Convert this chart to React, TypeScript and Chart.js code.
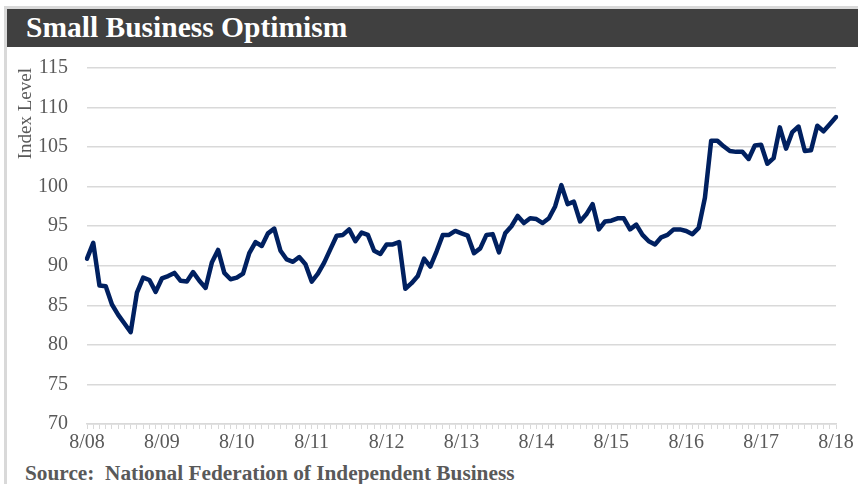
import React, { useEffect, useRef } from 'react';
import { Chart, registerables } from 'chart.js';

Chart.register(...registerables);

const tickLabels = ['8/08', '8/09', '8/10', '8/11', '8/12', '8/13', '8/14', '8/15', '8/16', '8/17', '8/18'];

// Monthly index values, Aug 2008 .. Aug 2018
const v2008 = [90.9, 92.9, 87.5, 87.4, 85.1];
const v2009 = [83.8, 82.7, 81.6, 86.6, 88.5, 88.2, 86.7, 88.4, 88.7, 89.1, 88.1, 88.0];
const v2010 = [89.2, 88.1, 87.2, 90.4, 92.0, 89.1, 88.3, 88.5, 89.0, 91.6, 93.0, 92.5];
const v2011 = [94.1, 94.7, 91.9, 90.8, 90.5, 91.1, 90.2, 88.0, 89.0, 90.4, 92.1, 93.8];
const v2012 = [93.9, 94.6, 93.1, 94.2, 93.9, 91.9, 91.5, 92.7, 92.7, 93.0, 87.1, 87.8];
const v2013 = [88.7, 90.9, 89.9, 91.8, 93.9, 93.9, 94.4, 94.1, 93.8, 91.6, 92.2, 93.9];
const v2014 = [94.0, 91.7, 94.1, 95.0, 96.3, 95.4, 96.0, 95.9, 95.4, 96.0, 97.5, 100.2];
const v2015 = [97.8, 98.1, 95.6, 96.5, 97.8, 94.6, 95.6, 95.7, 96.0, 96.0, 94.6, 95.2];
const v2016 = [93.9, 93.1, 92.7, 93.6, 93.9, 94.6, 94.6, 94.4, 94.0, 94.8, 98.6, 105.8];
const v2017 = [105.8, 105.1, 104.5, 104.4, 104.4, 103.5, 105.2, 105.3, 102.9, 103.6, 107.5, 104.8];
const v2018 = [106.9, 107.6, 104.5, 104.6, 107.7, 107.0, 107.9, 108.8];

const values = [...v2008, ...v2009, ...v2010, ...v2011, ...v2012, ...v2013, ...v2014, ...v2015, ...v2016, ...v2017, ...v2018];
const categories = values.map((_, i) => String(i));

const FONT = "'Liberation Serif', 'Times New Roman', serif";
const GRAY_TEXT = '#595959';
const GRID = '#d9d9d9';

export default function App() {
  const canvasRef = useRef<HTMLCanvasElement | null>(null);

  useEffect(() => {
    if (!canvasRef.current) return;
    const chart = new Chart(canvasRef.current, {
      type: 'line',
      data: {
        labels: categories,
        datasets: [
          {
            data: values,
            borderColor: '#002060',
            borderWidth: 4.5,
            pointRadius: 0,
            tension: 0,
            borderJoinStyle: 'round',
            borderCapStyle: 'round',
            fill: false,
          },
        ],
      },
      options: {
        animation: false,
        responsive: false,
        maintainAspectRatio: false,
        layout: { padding: { left: 0, right: 22, top: 21, bottom: 0 } },
        plugins: { legend: { display: false }, tooltip: { enabled: false }, title: { display: false } },
        scales: {
          x: {
            type: 'category',
            offset: false,
            grid: {
              display: true,
              drawOnChartArea: false,
              drawTicks: true,
              tickLength: 5,
              color: GRID,
              lineWidth: 1,
            },
            border: { display: true, color: GRID, width: 1.5 },
            ticks: {
              autoSkip: false,
              maxRotation: 0,
              minRotation: 0,
              padding: 2,
              color: GRAY_TEXT,
              font: { family: FONT, size: 20 },
              callback: (_v: any, idx: number) => (idx % 12 === 0 ? tickLabels[idx / 12] : ''),
            },
          },
          y: {
            min: 70,
            max: 115,
            afterFit: (scale: any) => {
              scale.width = 87;
              scale.paddingTop = 0;
              scale.paddingBottom = 0;
            },
            grid: { color: GRID, lineWidth: 1.5, drawTicks: false },
            border: { display: false },
            ticks: {
              stepSize: 5,
              padding: 19,
              color: GRAY_TEXT,
              font: { family: FONT, size: 20 },
            },
            title: {
              display: true,
              text: 'Index Level',
              align: 'end',
              color: GRAY_TEXT,
              font: { family: FONT, size: 19 },
              padding: { top: 15, bottom: 0 },
            },
          },
        },
      },
    } as any);
    return () => chart.destroy();
  }, []);

  return (
    <div
      style={{
        position: 'fixed',
        left: 0,
        top: 0,
        width: 858,
        height: 484,
        background: '#ffffff',
        overflow: 'hidden',
      }}
    >
      <div style={{ position: 'absolute', left: 4, top: 6, width: 3, height: 478, background: '#d9d9d9' }} />
      <div style={{ position: 'absolute', left: 4, top: 6, width: 854, height: 3, background: '#d9d9d9' }} />
      <div style={{ position: 'absolute', left: 7, top: 9, width: 851, height: 38, background: '#404040' }} />
      <div
        style={{
          position: 'absolute',
          left: 26,
          top: 13,
          fontFamily: FONT,
          fontWeight: 'bold',
          fontSize: 29.5,
          lineHeight: '29px',
          color: '#ffffff',
          whiteSpace: 'nowrap',
        }}
      >
        Small Business Optimism
      </div>
      <canvas
        ref={canvasRef}
        width={858}
        height={410}
        style={{ position: 'absolute', left: 0, top: 47, width: 858, height: 410, display: 'block' }}
      />
      <div
        style={{
          position: 'absolute',
          left: 25,
          top: 463,
          fontFamily: FONT,
          fontWeight: 'bold',
          fontSize: 21.3,
          lineHeight: '21px',
          color: GRAY_TEXT,
          whiteSpace: 'pre',
        }}
      >
        {'Source:  National Federation of Independent Business'}
      </div>
    </div>
  );
}
